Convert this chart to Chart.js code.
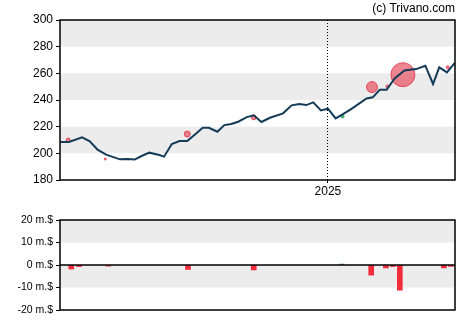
<!DOCTYPE html>
<html><head><meta charset="utf-8">
<script src="https://cdn.jsdelivr.net/npm/chart.js@4.4.1/dist/chart.umd.min.js"></script>
<style>
html,body{margin:0;padding:0;background:#fff;}
#wrap{position:relative;width:470px;height:325px;overflow:hidden;}
#c1{position:absolute;left:0;top:0;}
#c2{position:absolute;left:0;top:200px;}
#credit{position:absolute;right:15px;top:1px;font:12px "Liberation Sans",Arial,sans-serif;color:#000;}
</style></head>
<body>
<div id="wrap">
<canvas id="c1" width="470" height="200"></canvas>
<canvas id="c2" width="470" height="125"></canvas>
<div id="credit">(c) Trivano.com</div>
</div>
<script>
// ---- data (x = days relative to 2025-01-01) ----
const priceDays = [-346,-335,-318,-308,-298,-287,-269,-259,-250,-241,-231,-218,-212,-202,-192,-182,-172,-162,-154,-143,-134,-125,-116,-105,-96,-86,-75,-58,-47,-37,-28,-19,-9,0,10,19,30,50,58,67,76,86,99,114,126,136,144,154,164];
const priceValues = [208.5,208.5,212,209,202.7,199,195.5,195.8,195.3,198,200.5,198.7,197.5,207,209.2,209.2,214.2,219.2,219.2,216.2,221.2,222,223.7,227.2,228.5,223.5,226.7,230,236,237,236.2,238.2,232.2,233.5,226.2,229.2,233.2,241.2,242,247.7,247.7,256,262.2,263.2,265.7,252,264.5,260.7,267.7];
const tradeDays = [-336,-288,-182,-96,19,57,77,97,155];
const tradePrices = [210,195.7,214.5,227,227.7,249.7,250.2,259,264.5];
const tradeSizes = [2,1,3,2.5,1.5,5.5,1.5,12,1.5];
const tradeTypes = ['sell','sell','sell','sell','buy','sell','sell','sell','sell'];
const flowDays = [-332,-322,-284,-181,-96,18,56,75,84,93,150,159];
const flowValues = [-1.8,-0.7,-0.5,-2.0,-2.2,0.4,-4.5,-1.3,-0.7,-11.2,-1.3,-0.6];
const yearTicks = [{value:0,label:'2025'}];
const priceTicks = [180,200,220,240,260,280,300];
const flowTicks = [-20,-10,0,10,20];
const xMin = -346.6, xMax = 164.4;

const FONT = '"Liberation Sans", Arial, sans-serif';

const bandsPlugin = {
  id:'bands',
  beforeDraw(chart, args, opts){
    const {ctx, chartArea:a} = chart; const y = chart.scales.y;
    ctx.save(); ctx.fillStyle = '#ececec';
    (opts.ranges||[]).forEach(([lo,hi])=>{
      const p1 = y.getPixelForValue(hi), p2 = y.getPixelForValue(lo);
      ctx.fillRect(a.left, p1, a.right-a.left, p2-p1);
    });
    ctx.restore();
  }
};
const boxPlugin = {
  id:'box',
  afterDatasetsDraw(chart, args, opts){
    const {ctx, chartArea:a} = chart;
    ctx.save(); ctx.strokeStyle = '#000'; ctx.lineWidth = 1.5;
    ctx.strokeRect(a.left, a.top, a.right-a.left, a.bottom-a.top);
    if (opts.zero){
      const p = chart.scales.y.getPixelForValue(0);
      ctx.beginPath(); ctx.moveTo(a.left,p); ctx.lineTo(a.right,p); ctx.stroke();
    }
    ctx.restore();
  }
};

new Chart(document.getElementById('c1'), {
  data:{datasets:[
    {type:'bubble', data: tradeDays.map((d,i)=>({x:d,y:tradePrices[i],r:tradeSizes[i]})),
      backgroundColor: tradeTypes.map(t=>t==='buy'?'rgba(46,160,90,0.8)':'rgba(232,60,80,0.62)'),
      borderColor: tradeTypes.map(t=>t==='buy'?'rgba(46,160,90,0.9)':'rgba(220,40,60,0.75)'),
      borderWidth:1, order:2},
    {type:'line', data: priceDays.map((d,i)=>({x:d,y:priceValues[i]})),
      borderColor:'#143b58', borderWidth:2, pointRadius:0, tension:0, order:1}
  ]},
  options:{
    responsive:false, animation:false, devicePixelRatio:1,
    layout:{padding:{top:20,right:15,left:0,bottom:0}},
    plugins:{legend:{display:false},tooltip:{enabled:false},bands:{ranges:[[200,220],[240,260],[280,300]]},box:{}},
    scales:{
      x:{type:'linear', min:xMin, max:xMax,
        afterBuildTicks:s=>{s.ticks = yearTicks.map(t=>({value:t.value}));},
        afterFit:s=>{s.height=20;},
        ticks:{callback:v=>{const t=yearTicks.find(k=>k.value===v);return t?t.label:'';}, color:'#000', font:{family:FONT,size:12}, padding:1, maxRotation:0},
        grid:{color:'#000', lineWidth:1, tickLength:3, drawOnChartArea:true},
        border:{display:false, dash:[1,2]}},
      y:{min:180,max:300,
        afterBuildTicks:s=>{s.ticks = priceTicks.map(v=>({value:v}));},
        afterFit:s=>{s.width=60;},
        ticks:{color:'#000', font:{family:FONT,size:12}, padding:3},
        grid:{drawOnChartArea:false, color:'#000', tickLength:4},
        border:{display:false}}
    }
  },
  plugins:[bandsPlugin, boxPlugin]
});

new Chart(document.getElementById('c2'), {
  type:'bar',
  data:{datasets:[{data: flowDays.map((d,i)=>({x:d,y:flowValues[i]})),
    backgroundColor: flowValues.map(v=>v>=0?'#2e8b57':'#f22c3d'), barThickness:5, borderWidth:0}]},
  options:{
    responsive:false, animation:false, devicePixelRatio:1,
    layout:{padding:{top:20,right:15,left:0,bottom:15}},
    plugins:{legend:{display:false},tooltip:{enabled:false},bands:{ranges:[[10,20],[-10,0]]},box:{zero:true}},
    scales:{
      x:{type:'linear', min:xMin, max:xMax, offset:false, display:false},
      y:{min:-20,max:20,
        afterBuildTicks:s=>{s.ticks = flowTicks.map(v=>({value:v}));},
        afterFit:s=>{s.width=60;},
        ticks:{color:'#000', font:{family:FONT,size:10.5}, padding:3, callback:v=>v+' m.$'},
        grid:{drawOnChartArea:false, color:'#000', tickLength:4},
        border:{display:false}}
    }
  },
  plugins:[bandsPlugin, boxPlugin]
});
</script>
</body></html>
